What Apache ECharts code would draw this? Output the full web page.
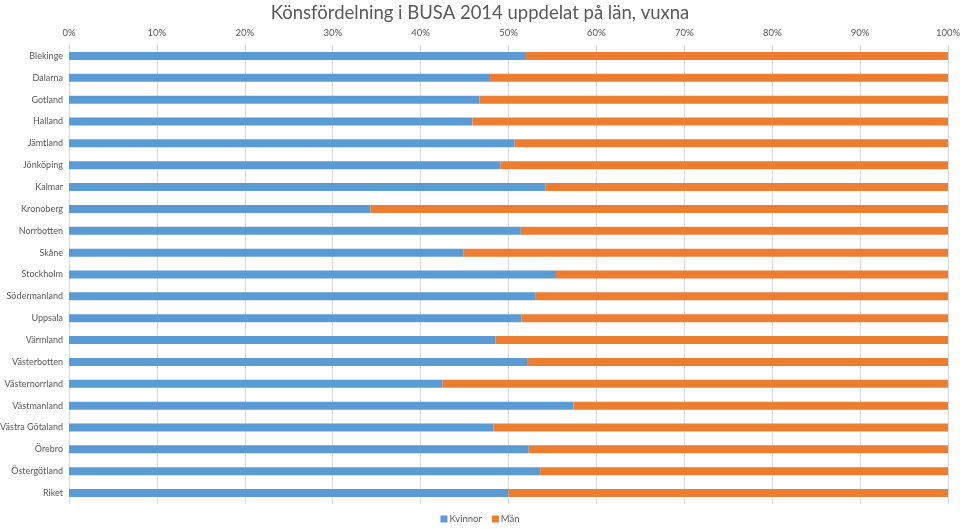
<!DOCTYPE html>
<html>
<head>
<meta charset="utf-8">
<script src="https://cdn.jsdelivr.net/npm/echarts@6/dist/echarts.min.js"></script>
<style>
html, body { margin: 0; padding: 0; background: #fff; }
#chart { width: 960px; height: 529px; }
</style>
</head>
<body>
<div id="chart"></div>
<script>
var lan = ['Blekinge', 'Dalarna', 'Gotland', 'Halland', 'Jämtland', 'Jönköping', 'Kalmar',
    'Kronoberg', 'Norrbotten', 'Skåne', 'Stockholm', 'Södermanland', 'Uppsala', 'Värmland',
    'Västerbotten', 'Västernorrland', 'Västmanland', 'Västra Götaland', 'Örebro',
    'Östergötland', 'Riket'];
// andel kvinnor i procent
var kvinnor = [52.0, 47.9, 46.7, 45.9, 50.7, 49.1, 54.2, 34.3, 51.4, 44.9, 55.4,
    53.1, 51.5, 48.5, 52.2, 42.5, 57.4, 48.3, 52.3, 53.6, 50.0];
var man = [];
for (var i = 0; i < kvinnor.length; i++) {
    man[man.length] = +(100 - kvinnor[i]).toFixed(1);
}

var textColor = '#595959';
var fontName = 'Lato';

var option = {
    animation: false,
    textStyle: { fontFamily: fontName },
    title: {
        text: 'Könsfördelning i BUSA 2014 uppdelat på län, vuxna',
        left: 'center',
        top: -1,
        textStyle: { fontFamily: fontName, fontWeight: 'normal', fontSize: 18.5, color: textColor }
    },
    legend: {
        bottom: 0,
        left: 'center',
        itemWidth: 7,
        itemHeight: 7,
        itemGap: 10,
        icon: 'rect',
        textStyle: { fontSize: 9.5, color: textColor, padding: [0, 0, 0, -3] },
        data: ['Kvinnor', 'Män']
    },
    grid: { left: 69, right: 12, top: 45, bottom: 25, outerBoundsMode: 'none', containLabel: false },
    xAxis: {
        type: 'value',
        position: 'top',
        min: 0,
        max: 100,
        interval: 10,
        axisLine: { show: false },
        axisTick: { show: false },
        axisLabel: { formatter: '{value}%', fontSize: 9.5, color: textColor, margin: 7 },
        splitLine: { lineStyle: { color: '#d9d9d9' } }
    },
    yAxis: {
        type: 'category',
        inverse: true,
        data: lan,
        axisLine: { show: false },
        axisTick: { show: false },
        axisLabel: { fontSize: 9, color: textColor, margin: 6 }
    },
    series: [{
        name: 'Kvinnor',
        type: 'bar',
        stack: 'total',
        barWidth: 8,
        itemStyle: { color: '#5B9BD5' },
        data: kvinnor
    }, {
        name: 'Män',
        type: 'bar',
        stack: 'total',
        barWidth: 8,
        itemStyle: { color: '#ED7D31' },
        data: man
    }]
};

var echart = echarts.init(document.getElementById('chart'));
echart.setOption(option, true);
</script>
</body>
</html>
